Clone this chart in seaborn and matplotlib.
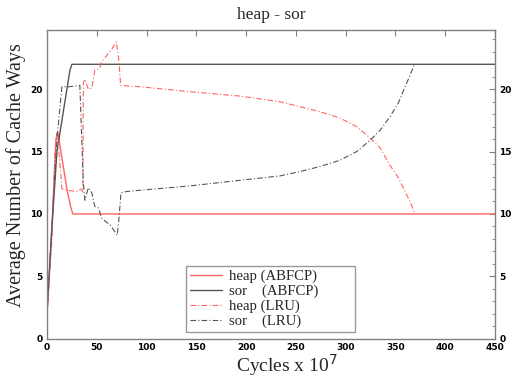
import numpy as np
import pandas as pd
import matplotlib
matplotlib.use("Agg")
import matplotlib.pyplot as plt
import seaborn as sns
from matplotlib.ticker import MultipleLocator

# heap (ABFCP)
heap_abfcp_x = [0, 5, 9, 11, 14, 20, 24, 26, 450]
heap_abfcp_y = [2, 9, 16, 16.5, 15, 12, 10.5, 10, 10]

# sor (ABFCP)
sor_abfcp_x = [0, 5, 10, 15, 20, 23, 25, 450]
sor_abfcp_y = [2, 9, 15, 17.5, 20, 21.5, 22, 22]

# heap (LRU)
heap_lru_x = [0, 5, 8, 10, 12, 15, 20, 30, 34, 36, 36.5, 38, 41.5, 45, 48, 53, 55, 65, 69.5, 72, 74,
              93.5, 143.6, 194, 234, 254, 274, 294, 311, 324.4, 334.5, 344.5, 352.9, 359.6, 364.6, 369]
heap_lru_y = [2, 8, 15, 16.5, 15, 12, 11.9, 11.8, 12, 11.8, 20.5, 20.8, 20, 20.1, 21.5, 21.7, 22.2, 23.2, 23.8, 22.5, 20.3,
              20.2, 19.8, 19.45, 19.0, 18.6, 18.2, 17.7, 17.0, 16.1, 15.3, 13.9, 12.9, 11.8, 11.0, 10.1]

# sor (LRU)
sor_lru_x = [0, 5, 10, 15, 22, 33, 36.5, 38, 41.5, 45, 48, 51.5, 55, 63.6, 70.5, 71.9, 74.3, 80, 93.6,
             143.6, 194, 234, 254, 274, 294, 311, 324.4, 334.5, 344.5, 352.9, 359.6, 364.6, 369]
sor_lru_y = [2, 9, 16, 20.2, 20.2, 20.3, 12.5, 11.1, 12.1, 11.7, 10.6, 10.5, 9.65, 9.1, 8.3, 9.25, 11.7, 11.8, 11.9,
             12.25, 12.7, 13.05, 13.4, 13.8, 14.3, 15.0, 15.9, 16.7, 17.8, 18.9, 20.2, 21.1, 22.0]

red = "#ff6464"
gray = "#555555"

sns.set_style("white")
plt.rcParams["font.family"] = ["DejaVu Sans"]

fig = plt.figure(figsize=(5.13, 3.82), dpi=100)
ax = fig.add_axes([0.0916, 0.1134, 0.8734, 0.8081])

sns.lineplot(x=heap_abfcp_x, y=heap_abfcp_y, color=red, lw=1.0, ax=ax, label="heap (ABFCP)")
sns.lineplot(x=sor_abfcp_x, y=sor_abfcp_y, color=gray, lw=1.0, ax=ax, label="sor    (ABFCP)")
sns.lineplot(x=heap_lru_x, y=heap_lru_y, color=red, lw=0.8, ax=ax, label="heap (LRU)", sort=False)
sns.lineplot(x=sor_lru_x, y=sor_lru_y, color=gray, lw=0.8, ax=ax, label="sor    (LRU)", sort=False)
for ln in ax.lines[2:]:
    ln.set_dashes([5, 2, 1, 2])

ax.set_xlim(0, 450)
ax.set_ylim(0, 24.75)
ax.xaxis.set_major_locator(MultipleLocator(50))
ax.yaxis.set_major_locator(MultipleLocator(5))
ax.yaxis.set_minor_locator(MultipleLocator(1))
ax.tick_params(which="both", direction="in", top=True, right=True, labelright=True,
               labelsize=6.5, colors="#808080", labelcolor="black", pad=3)
ax.tick_params(which="major", length=4)
ax.tick_params(which="minor", length=2.5, top=False)
for lab in ax.get_xticklabels() + ax.get_yticklabels():
    lab.set_fontweight("bold")
for sp in ax.spines.values():
    sp.set_color("#808080")
    sp.set_linewidth(1.0)

serif = ["Liberation Serif", "DejaVu Serif"]
ax.set_title("heap - sor", fontsize=12.5, family=serif, pad=8)
ax.set_xlabel("Cycles x 10$^7$", fontsize=14, family=serif)
ax.set_ylabel("Average Number of Cache Ways", fontsize=14.5, family=serif)
ax.yaxis.set_label_coords(-0.046, 0.53)
ax.xaxis.set_label_coords(0.535, -0.045)

leg = ax.legend(loc="lower left", bbox_to_anchor=(0.31, 0.022, 0.377, 0.224), mode="expand",
                frameon=True, fancybox=False,
                prop={"family": serif, "size": 10.6}, handlelength=2.2, handletextpad=0.5,
                labelspacing=0.1, borderpad=0.25, borderaxespad=0)
leg.get_frame().set_edgecolor("#808080")
leg.get_frame().set_linewidth(1.0)

fig.savefig("out.png", dpi=100)
